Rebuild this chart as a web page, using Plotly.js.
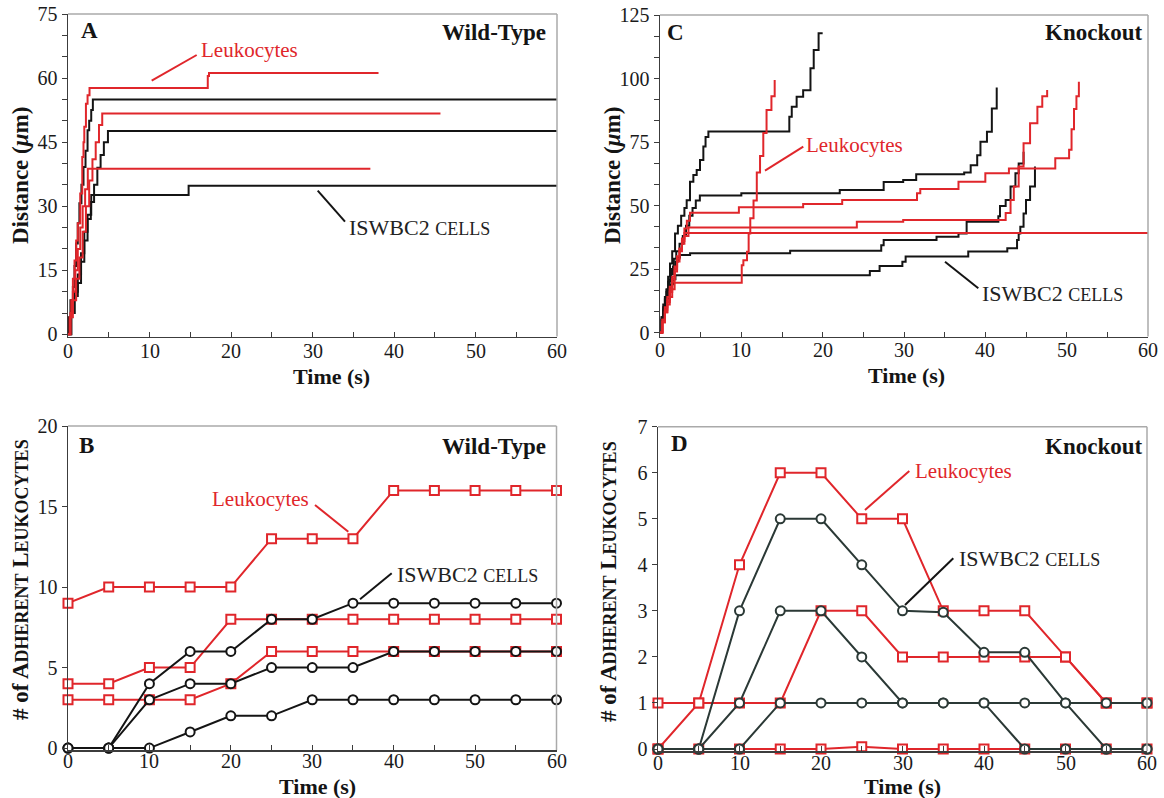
<!DOCTYPE html>
<html>
<head>
<meta charset="utf-8">
<script src="https://cdn.plot.ly/plotly-3.0.1.min.js"></script>
<style>
  html, body { margin: 0; padding: 0; background: #fff; }
  #chart { width: 1164px; height: 798px; }
</style>
</head>
<body>
<div id="chart"></div>
<script>
// ---------- Panel A: Wild-Type rolling distance tracks (time s, distance um) ----------
const wtLeuk1T = [0, 0.2, 0.4, 0.6, 0.8, 1.0, 1.2, 1.5, 1.75, 1.9, 2.0, 2.2, 2.4, 2.64, 17.15, 17.3, 38.1];
const wtLeuk1D = [0, 4, 8, 13, 17.3, 22, 26, 33, 41.5, 45, 48.6, 54, 56, 57.7, 60.5, 61.2, 61.2];
const wtLeuk2T = [0, 0.3, 0.6, 1.0, 1.4, 1.8, 2.2, 2.6, 3.0, 3.4, 3.8, 4.2, 45.7];
const wtLeuk2D = [0, 4, 8, 13, 18, 24, 30, 36, 41, 45, 49, 51.7, 51.7];
const wtLeuk3T = [0, 0.3, 0.6, 0.9, 1.2, 1.5, 1.8, 2.1, 2.43, 37.1];
const wtLeuk3D = [0, 5, 10, 15, 20, 25, 30, 34, 38.8, 38.8];
const wtCell1T = [0, 0.05, 0.3, 0.6, 0.8, 1.0, 1.2, 1.4, 1.65, 1.9, 2.15, 2.4, 2.6, 2.85, 3.05, 60];
const wtCell1D = [0, 4, 8, 11.1, 16, 21.3, 26, 30.7, 35, 39.2, 43, 47.8, 50, 52.5, 55, 55];
const wtCell2T = [0, 0.4, 0.8, 1.2, 1.6, 2.0, 2.4, 2.8, 3.2, 3.6, 4.0, 4.4, 4.9, 60];
const wtCell2D = [0, 5, 10, 12, 17, 22, 27, 31, 35, 39, 42, 45, 47.6, 47.6];
const wtCell3T = [0, 0.4, 0.8, 1.2, 1.6, 2.0, 2.4, 2.85, 14.7, 14.8, 60];
const wtCell3D = [0, 5, 9, 14, 19, 24, 28, 32.6, 32.6, 34.8, 34.8];

// ---------- Panel C: Knockout rolling distance tracks ----------
const koLeuk1T = [0, 0.3, 0.6, 0.9, 1.2, 1.5, 1.8, 10.05, 10.25, 10.7, 10.9, 11.1, 11.5, 11.9, 12.3, 12.7, 13.1, 13.7, 14.1];
const koLeuk1D = [0, 4, 8, 11, 14, 17, 19.6, 26.5, 28.5, 31.8, 39, 45, 52, 63, 69.5, 78.5, 87.6, 93, 99.4];
const koLeuk2T = [0, 0.3, 0.6, 0.9, 1.2, 1.5, 1.8, 2.1, 2.4, 2.7, 3.0, 3.3, 3.69, 9.7, 17.6, 22.4, 31.6, 32.0, 36.7, 40.0, 42.9, 48.6, 50.3, 50.6, 50.9, 51.2, 51.5];
const koLeuk2D = [0, 5, 9, 13, 17, 21, 25, 29, 33, 37, 41, 44, 47.2, 49.3, 50.6, 52.2, 54.8, 56.5, 59.4, 62.7, 64.6, 68.6, 72, 80, 88, 93, 98.7];
const koLeuk3T = [0, 0.3, 0.6, 0.9, 1.2, 1.5, 1.8, 2.1, 2.4, 2.7, 3.0, 3.5, 24.2, 29.9, 42.5, 43.1, 43.5, 44.1, 44.7, 45.5, 46.4, 47.0, 47.6];
const koLeuk3D = [0, 4, 8, 12, 16, 20, 24, 28, 32, 35, 38, 41.3, 43.6, 44.3, 47.1, 52.2, 57.5, 65.4, 74.5, 82.4, 88.9, 93, 95.5];
const koLeuk4T = [0, 0.3, 0.6, 0.9, 1.2, 1.5, 1.8, 2.1, 2.4, 2.7, 3.0, 60];
const koLeuk4D = [0, 5, 10, 14, 18, 22, 26, 30, 33, 36, 39.2, 39.2];
const koCell1T = [0, 0.2, 0.4, 0.6, 0.82, 1.0, 1.23, 1.5, 1.85, 2.2, 2.6, 3.0, 3.28, 3.69, 4.1, 4.51, 4.92, 5.33, 5.6, 5.95, 15.9, 16.2, 16.8, 17.6, 18.5, 18.9, 19.5, 20.0];
const koCell1D = [0, 6, 11, 14, 16.7, 22, 27.2, 32, 39, 42, 46, 49, 52.1, 59.4, 62, 64, 67.9, 73.2, 77, 79.1, 84.9, 88.9, 92.8, 95.4, 104, 111.2, 117.8, 117.8];
const koCell2T = [0, 0.2, 0.5, 0.8, 1.1, 1.4, 1.7, 2.0, 2.4, 2.8, 3.2, 3.6, 4.0, 4.4, 4.9, 10.0, 22.1, 27.5, 29.9, 31.5, 37.4, 38.2, 39.0, 39.4, 40.2, 40.8, 41.4];
const koCell2D = [0, 5, 10, 16, 21, 25, 29, 32, 35, 38, 42, 46, 49, 52, 53.9, 54.8, 56.1, 59.3, 60.0, 62.3, 63, 65.9, 69.8, 75.1, 79.0, 88.2, 96.5];
const koCell3T = [0, 0.2, 0.4, 0.6, 0.8, 1.0, 1.3, 1.6, 1.9, 2.2, 2.46, 3.7, 16.0, 27.2, 27.5, 34.0, 36.7, 37.7, 41.6, 41.8, 42.5, 43.1, 43.7, 44.1, 44.7];
const koCell3D = [0, 6, 10, 13, 17, 20, 23, 26, 28, 29.5, 30.5, 31.2, 32.2, 34.4, 36.4, 37.7, 39.0, 43.6, 45.8, 49.8, 52.2, 57.5, 62.7, 66.5, 71.2];
const koCell4T = [0, 0.2, 0.4, 0.7, 1.0, 1.3, 1.6, 1.9, 25.8, 27.0, 29.8, 30.2, 37.9, 42.7, 43.9, 44.1, 44.3, 44.7, 45.0, 45.5, 46.1];
const koCell4D = [0, 5, 9, 13, 16, 19, 21, 22.6, 24.2, 26.2, 27.9, 29.9, 31.9, 33.2, 36.4, 39, 41.6, 46.9, 52.2, 57.5, 65.4];

// ---------- Panels B and D: adherent counts every 5 s ----------
const sampleTimes = [0, 5, 10, 15, 20, 25, 30, 35, 40, 45, 50, 55, 60];
const wtLeukCount1 = [9, 10, 10, 10, 10, 13, 13, 13, 16, 16, 16, 16, 16];
const wtLeukCount2 = [4, 4, 5, 5, 8, 8, 8, 8, 8, 8, 8, 8, 8];
const wtLeukCount3 = [3, 3, 3, 3, 4, 6, 6, 6, 6, 6, 6, 6, 6];
const wtCellCount1 = [0, 0, 4, 6, 6, 8, 8, 9, 9, 9, 9, 9, 9];
const wtCellCount2 = [0, 0, 3, 4, 4, 5, 5, 5, 6, 6, 6, 6, 6];
const wtCellCount3 = [0, 0, 0, 1, 2, 2, 3, 3, 3, 3, 3, 3, 3];
const koLeukCount1 = [0, 1, 4, 6, 6, 5, 5, 3, 3, 3, 2, 1, 1];
const koLeukCount2 = [1, 1, 1, 1, 3, 3, 2, 2, 2, 2, 2, 1, 1];
const koLeukCount3 = [0, 0, 0, 0, 0, 0.05, 0, 0, 0, 0, 0, 0, 0];
const koCellCount1 = [0, 0, 3, 5, 5, 4, 3, 2.97, 2.1, 2.1, 1, 0, 0];
const koCellCount2 = [0, 0, 1, 3, 3, 2, 1, 1, 1, 0, 0, 0, 0];
const koCellCount3 = [0, 0, 0, 1, 1, 1, 1, 1, 1, 1, 1, 1, 1];

// time-axis tick labels
const timeTicks = [0, 10, 20, 30, 40, 50, 60];

// ---------- Styling ----------
const RED = '#e0262b';
const BLACK = '#141414';
const SLATE = '#2b3936';
const SERIF = 'Liberation Serif';
const W = 1164, H = 798;
const fx = p => p / W;
const fy = p => 1 - p / H;

function track(t, d, color, xa, ya) {
  return { x: t, y: d, xaxis: xa, yaxis: ya, mode: 'lines', type: 'scatter',
           line: { color: color, width: 2, shape: 'hv' }, hoverinfo: 'skip', showlegend: false };
}
function counts(y, color, symbol, xa, ya) {
  return { x: sampleTimes, y: y, xaxis: xa, yaxis: ya, mode: 'lines+markers', type: 'scatter',
           cliponaxis: false,
           line: { color: color, width: 2 },
           marker: { symbol: symbol, size: 9, color: '#ffffff', line: { color: color, width: 2 } },
           hoverinfo: 'skip', showlegend: false };
}

const data = [
  track(wtCell1T, wtCell1D, BLACK, 'x', 'y'),
  track(wtCell2T, wtCell2D, BLACK, 'x', 'y'),
  track(wtCell3T, wtCell3D, BLACK, 'x', 'y'),
  track(wtLeuk1T, wtLeuk1D, RED, 'x', 'y'),
  track(wtLeuk2T, wtLeuk2D, RED, 'x', 'y'),
  track(wtLeuk3T, wtLeuk3D, RED, 'x', 'y'),

  track(koCell1T, koCell1D, BLACK, 'x2', 'y2'),
  track(koCell2T, koCell2D, BLACK, 'x2', 'y2'),
  track(koCell3T, koCell3D, BLACK, 'x2', 'y2'),
  track(koCell4T, koCell4D, BLACK, 'x2', 'y2'),
  track(koLeuk1T, koLeuk1D, RED, 'x2', 'y2'),
  track(koLeuk2T, koLeuk2D, RED, 'x2', 'y2'),
  track(koLeuk3T, koLeuk3D, RED, 'x2', 'y2'),
  track(koLeuk4T, koLeuk4D, RED, 'x2', 'y2'),

  counts(wtLeukCount1, RED, 'square', 'x3', 'y3'),
  counts(wtLeukCount2, RED, 'square', 'x3', 'y3'),
  counts(wtLeukCount3, RED, 'square', 'x3', 'y3'),
  counts(wtCellCount3, BLACK, 'circle', 'x3', 'y3'),
  counts(wtCellCount2, BLACK, 'circle', 'x3', 'y3'),
  counts(wtCellCount1, BLACK, 'circle', 'x3', 'y3'),

  counts(koLeukCount3, RED, 'square', 'x4', 'y4'),
  counts(koLeukCount2, RED, 'square', 'x4', 'y4'),
  counts(koLeukCount1, RED, 'square', 'x4', 'y4'),
  counts(koCellCount3, SLATE, 'circle', 'x4', 'y4'),
  counts(koCellCount2, SLATE, 'circle', 'x4', 'y4'),
  counts(koCellCount1, SLATE, 'circle', 'x4', 'y4')
];

const AXCOL = '#3c3c3c';
const tickFont = { family: SERIF, size: 20, color: '#1a1a1a' };
function xAxis(domain, anchor) {
  return { domain: domain, anchor: anchor, range: [0, 60], tick0: 0, dtick: 10,
           ticks: 'inside', ticklen: 5, tickwidth: 1, tickcolor: AXCOL, showticklabels: false,
           minor: { dtick: 5, ticks: 'inside', ticklen: 5, tickwidth: 1, tickcolor: AXCOL, showgrid: false },
           showline: true, linecolor: AXCOL, linewidth: 1.5, showgrid: false, zeroline: false,
           fixedrange: true };
}
function yAxis(domain, anchor, range, dtick, minorDtick) {
  const ax = { domain: domain, anchor: anchor, range: range, tick0: 0, dtick: dtick,
           ticks: 'outside', ticklen: 5, tickwidth: 1, tickcolor: AXCOL,
           showline: true, linecolor: AXCOL, linewidth: 1.5, showgrid: false, zeroline: false,
           tickfont: tickFont, fixedrange: true };
  if (minorDtick) ax.minor = { dtick: minorDtick, ticks: 'outside', ticklen: 5, tickwidth: 1, tickcolor: AXCOL, showgrid: false };
  return ax;
}

// light frame on the top and right of each panel
const frame = [];
[['x', 'y'], ['x2', 'y2'], ['x3', 'y3'], ['x4', 'y4']].forEach(([xa, ya]) => {
  const s = { type: 'line', xref: xa + ' domain', yref: ya + ' domain', line: { color: '#aaaaaa', width: 1.5 } };
  frame.push(Object.assign({}, s, { x0: 0, x1: 1, y0: 1, y1: 1 }));
  frame.push(Object.assign({}, s, { x0: 1, x1: 1, y0: 0, y1: 1 }));
});
// callout leader lines (pixel positions)
function leader(x0, y0, x1, y1, color) {
  return { type: 'line', xref: 'paper', yref: 'paper', x0: fx(x0), y0: fy(y0), x1: fx(x1), y1: fy(y1),
           line: { color: color, width: 2 } };
}
const leaders = [
  leader(151.7, 80.7, 196.7, 55, RED),
  leader(317.7, 190.7, 345, 221.7, BLACK),
  leader(765, 170.7, 803.3, 146.7, RED),
  leader(945, 261.7, 978.3, 288.3, BLACK),
  leader(315, 505, 348.3, 531.7, RED),
  leader(360, 599.3, 391.7, 573.3, BLACK),
  leader(865, 510, 909.3, 471, RED),
  leader(905, 605, 953.3, 558.3, BLACK)
];

function label(text, x, y, opts) {
  return Object.assign({ text: text, xref: 'paper', yref: 'paper', x: fx(x), y: fy(y),
    showarrow: false, xanchor: 'center', yanchor: 'middle',
    font: { family: SERIF, size: 21, color: BLACK } }, opts || {});
}
const SC = s => '<span style="font-size:18px">' + s + '</span>';
const SCY = s => '<span style="font-size:18px">' + s + '</span>';
const annotations = [
  label('<b>A</b>', 89, 30, { font: { family: SERIF, size: 23, color: BLACK } }),
  label('<b>C</b>', 675, 32, { font: { family: SERIF, size: 23, color: BLACK } }),
  label('<b>B</b>', 86, 445, { font: { family: SERIF, size: 23, color: BLACK } }),
  label('<b>D</b>', 679, 443, { font: { family: SERIF, size: 23, color: BLACK } }),
  label('<b>Wild-Type</b>', 548, 33, { xanchor: 'right', font: { family: SERIF, size: 23, color: BLACK } }),
  label('<b>Wild-Type</b>', 548, 446, { xanchor: 'right', font: { family: SERIF, size: 23, color: BLACK } }),
  label('<b>Knockout</b>', 1144, 33, { xanchor: 'right', font: { family: SERIF, size: 23, color: BLACK } }),
  label('<b>Knockout</b>', 1144, 446, { xanchor: 'right', font: { family: SERIF, size: 23, color: BLACK } }),
  label('Leukocytes', 199, 50, { xanchor: 'left', font: { family: SERIF, size: 21, color: RED } }),
  label('Leukocytes', 804, 145, { xanchor: 'left', font: { family: SERIF, size: 21, color: RED } }),
  label('Leukocytes', 210, 499, { xanchor: 'left', font: { family: SERIF, size: 21, color: RED } }),
  label('Leukocytes', 913, 471, { xanchor: 'left', font: { family: SERIF, size: 21, color: RED } }),
  label('ISWBC2 ' + SC('CELLS'), 347, 227, { xanchor: 'left', font: { family: SERIF, size: 22, color: '#222' } }),
  label('ISWBC2 ' + SC('CELLS'), 980, 293, { xanchor: 'left', font: { family: SERIF, size: 22, color: '#222' } }),
  label('ISWBC2 ' + SC('CELLS'), 395, 574, { xanchor: 'left', font: { family: SERIF, size: 22, color: '#222' } }),
  label('ISWBC2 ' + SC('CELLS'), 957, 558, { xanchor: 'left', font: { family: SERIF, size: 22, color: '#222' } }),
  // axis titles
  label('<b>Time (s)</b>', 331, 377, { font: { family: SERIF, size: 22, color: BLACK } }),
  label('<b>Time (s)</b>', 906, 375, { font: { family: SERIF, size: 22, color: BLACK } }),
  label('<b>Time (s)</b>', 318, 786, { font: { family: SERIF, size: 22, color: BLACK } }),
  label('<b>Time (s)</b>', 902, 786, { font: { family: SERIF, size: 22, color: BLACK } }),
  label('<b>Distance (<i>\u03bc</i>m)</b>', 20, 176, { textangle: -90, font: { family: SERIF, size: 23, color: BLACK } }),
  label('<b>Distance (<i>\u03bc</i>m)</b>', 612, 176, { textangle: -90, font: { family: SERIF, size: 23, color: BLACK } }),
  label('<b># of A' + SCY('DHERENT') + ' L' + SCY('EUKOCYTES') + '</b>', 20, 580, { textangle: -90, font: { family: SERIF, size: 23, color: BLACK } }),
  label('<b># of A' + SCY('DHERENT') + ' L' + SCY('EUKOCYTES') + '</b>', 608, 582, { textangle: -90, font: { family: SERIF, size: 23, color: BLACK } })
];
// time tick labels, placed on each time axis at a fixed pixel row
[['x', 351], ['x2', 350], ['x3', 761], ['x4', 763]].forEach(([xa, row]) => {
  timeTicks.forEach(v => {
    annotations.push({ text: String(v), xref: xa, yref: 'paper', x: v, y: fy(row),
      showarrow: false, xanchor: 'center', yanchor: 'middle',
      font: { family: SERIF, size: 20, color: '#1a1a1a' } });
  });
});

const layout = {
  width: W, height: H,
  margin: { l: 0, r: 0, t: 0, b: 0 },
  paper_bgcolor: '#ffffff', plot_bgcolor: '#ffffff',
  showlegend: false,
  xaxis:  xAxis([fx(68), fx(557)], 'y'),
  yaxis:  yAxis([fy(336.5), fy(14)], 'x', [-0.5, 75], 15, 5),
  xaxis2: xAxis([fx(660), fx(1148)], 'y2'),
  yaxis2: yAxis([fy(336.6), fy(15)], 'x2', [-1.6, 125], 25, 25 / 3),
  xaxis3: xAxis([fx(68), fx(556.5)], 'y3'),
  yaxis3: yAxis([fy(750), fy(426)], 'x3', [-0.12, 20], 5, null),
  xaxis4: xAxis([fx(658), fx(1147)], 'y4'),
  yaxis4: yAxis([fy(751.3), fy(426.7)], 'x4', [-0.05, 7], 1, null),
  shapes: frame.concat(leaders),
  annotations: annotations
};

Plotly.newPlot('chart', data, layout, { staticPlot: true, displayModeBar: false });
</script>
</body>
</html>
